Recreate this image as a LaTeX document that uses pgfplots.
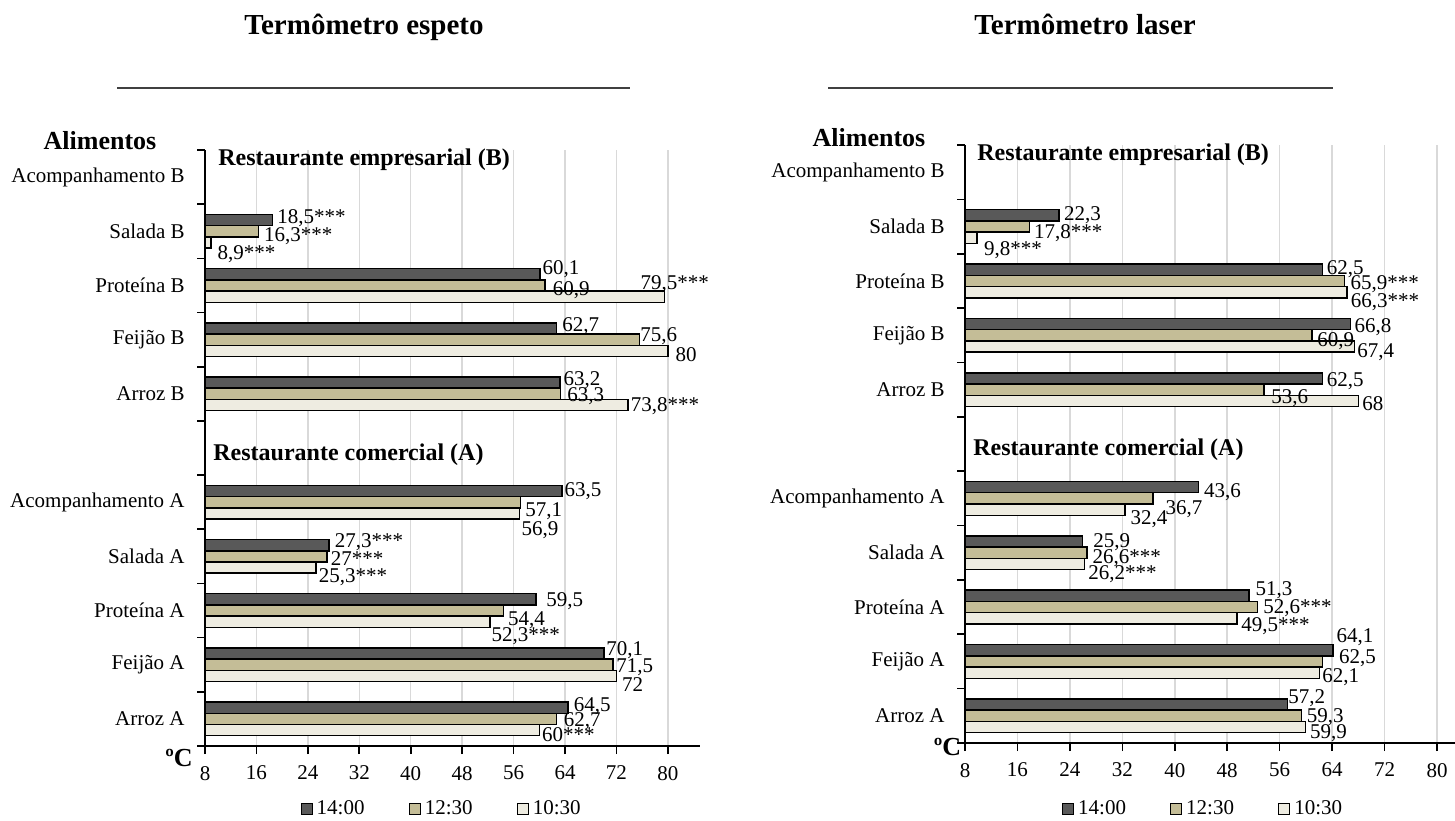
\documentclass[border=0pt]{standalone}
\usepackage{pgfplots}
\pgfplotsset{compat=1.18}
\usepackage{pgfplotstable}
\usepackage{fontspec}
\setmainfont{Liberation Serif}

\definecolor{barDark}{HTML}{595959}
\definecolor{barTan}{HTML}{C4BD97}
\definecolor{barLight}{HTML}{EEECE1}
\definecolor{gridGray}{HTML}{D9D9D9}

\newcommand\lbl{\fontsize{10.5}{12}\selectfont}
\newcommand\hdr{\fontsize{12}{14}\selectfont\bfseries}
\newcommand\bighdr{\fontsize{13}{15}\selectfont\bfseries}

% Temperatures (degC) per food and time; dx/dy place each value label (px)
\pgfplotstableread{
cat dv dl ddx ddy tv tl tdx tdy lv ll ldx ldy
1 18.5 18,5*** 4 -3.5 16.3 16,3*** 5 -10.6 8.9 8,9*** 6 -17.1
2 60.1 60,1 2 -0.6 60.9 60,9 7 -9.7 79.5 79,5*** -24.7 7.1
3 62.7 62,7 5 -3.4 75.6 75,6 0 -2.2 80 80 7 -11
4 63.2 63,2 3 -2.5 63.3 63,3 6 -8 73.8 73,8*** 2 -6.8
6 63.5 63,5 2 -5.8 57.1 57,1 4 -14.6 56.9 56,9 1.6 -21.7
7 27.3 27,3*** 5 -2.3 27 27*** 3 -8.7 25.3 25,3*** 2 -14.9
8 59.5 59,5 9.6 -7.4 54.4 54,4 4 -15.2 52.3 52,3*** 1 -20
9 70.1 70,1 1.4 -2.2 71.5 71,5 2.4 -8 72 72 5 -15.8
10 64.5 64,5 5 -3.3 62.7 62,7 6.6 -7.8 60 60*** 2 -11.6
}\espeto

\pgfplotstableread{
cat dv dl ddx ddy tv tl tdx tdy lv ll ldx ldy
1 22.3 22,3 4.6 -5 17.8 17,8*** 4 -11.5 9.8 9,8*** 6.5 -17.5
2 62.5 62,5 3.7 -4.6 65.9 65,9*** 5.4 -8.8 66.3 66,3*** 2.8 -15.8
3 66.8 66,8 3.5 -8 60.9 60,9 4.9 -11.7 67.4 67,4 2.3 -10.5
4 62.5 62,5 3.7 -7.9 53.6 53,6 6.7 -14.1 68 68 3.3 -9.4
6 43.6 43,6 5 -10 36.7 36,7 11.8 -16 32.4 32,4 5 -14.7
7 25.9 25,9 10.3 -6.2 26.6 26,6*** 4.8 -11 26.2 26,2*** 3.4 -15.8
8 51.3 51,3 6 0.6 52.6 52,6*** 5.3 -6.6 49.5 49,5*** 3.6 -13.6
9 64.1 64,1 3.2 8.2 62.5 62,5 16 -1.6 62.1 62,1 2 -9.3
10 57.2 57,2 0 0.9 59.3 59,3 4.7 -6.2 59.9 59,9 4 -11
}\laser

\pgfplotsset{
  thermo/.style={
    scale only axis, anchor=south west,
    xbar, bar width=0.207,
    xmin=8, xmax=85, ymin=-0.5, ymax=10.5, y dir=reverse,
    axis x line*=bottom, axis y line*=left,
    axis line style={line width=1pt},
    tick align=outside, major tick length=4pt,
    every tick/.style={black, line width=0.8pt},
    xtick={8,16,...,80},
    xmajorgrids, major grid style={gridGray, line width=0.75pt},
    ytick={-0.5,0.5,...,10.5}, yticklabels={},
    extra y ticks={0,...,10},
    extra y tick labels={Acompanhamento B, Salada B, Proteína B, Feijão B, Arroz B, {}, Acompanhamento A, Salada A, Proteína A, Feijão A, Arroz A},
    extra y tick style={major tick length=0pt},
    yticklabel style={inner sep=0pt, xshift=-10pt},
    xticklabel style={yshift=-2.5pt},
    /pgf/number format/assume math mode=true,
    tick label style={font=\lbl},
    point meta=explicit symbolic,
    nodes near coords,
    every node near coord/.append style={anchor=base west, inner sep=0pt, font=\lbl, xshift=\dx*0.5pt, yshift=\dy*0.5pt},
    legend style={draw=none, fill=none, legend columns=3, font=\lbl, anchor=center,
      /tikz/every even column/.append style={column sep=20pt}},
    legend image code/.code={\draw[#1, line width=0.6pt] (0pt,-2.75pt) rectangle (5.5pt,2.75pt);},
  },
  dark/.style={fill=barDark, draw=black, line width=0.75pt, bar shift=-0.207},
  tan/.style={fill=barTan, draw=black, line width=0.75pt, bar shift=0},
  light/.style={fill=barLight, draw=black, line width=0.75pt, bar shift=0.207},
  % one time series with per-point label offsets taken from the table
  series/.style n args={2}{forget plot,
    visualization depends on={\thisrow{#1}\as\dx},
    visualization depends on={\thisrow{#2}\as\dy}},
}

\begin{document}
\begin{tikzpicture}
\path[use as bounding box] (0pt,0pt) rectangle (727.5pt,410pt);

% Probe thermometer
\begin{axis}[thermo, at={(102.5pt,37pt)}, width=247.5pt, height=298pt,
  legend style={at={(0.48,-0.1057)}}]
  \addlegendimage{fill=barDark, draw=black}
  \addlegendentry{14:00}
  \addlegendimage{fill=barTan, draw=black}
  \addlegendentry{12:30}
  \addlegendimage{fill=barLight, draw=black}
  \addlegendentry{10:30}
  \addplot[dark, series={ddx}{ddy}] table[x=dv, y=cat, meta=dl]{\espeto};
  \addplot[tan, series={tdx}{tdy}] table[x=tv, y=cat, meta=tl]{\espeto};
  \addplot[light, series={ldx}{ldy}] table[x=lv, y=cat, meta=ll]{\espeto};
\end{axis}

% Laser thermometer
\begin{axis}[thermo, at={(482.5pt,38.5pt)}, width=252.4pt, height=299pt,
  legend style={at={(0.4735,-0.110)}}]
  \addlegendimage{fill=barDark, draw=black}
  \addlegendentry{14:00}
  \addlegendimage{fill=barTan, draw=black}
  \addlegendentry{12:30}
  \addlegendimage{fill=barLight, draw=black}
  \addlegendentry{10:30}
  \addplot[dark, series={ddx}{ddy}] table[x=dv, y=cat, meta=dl]{\laser};
  \addplot[tan, series={tdx}{tdy}] table[x=tv, y=cat, meta=tl]{\laser};
  \addplot[light, series={ldx}{ldy}] table[x=lv, y=cat, meta=ll]{\laser};
\end{axis}

% Titles and rules
\node[font=\fontsize{14.5}{16}\selectfont\bfseries, anchor=base] at (182pt,392.5pt) {Termômetro espeto};
\node[font=\fontsize{14.5}{16}\selectfont\bfseries, anchor=base] at (542.5pt,392.5pt) {Termômetro laser};
\draw[line width=1pt, black!75] (58.5pt,366pt) -- (315pt,366pt);
\draw[line width=1pt, black!75] (414pt,366pt) -- (666.5pt,366pt);

% Axis captions
\node[font=\bighdr] at (50pt,339.5pt) {Alimentos};
\node[font=\bighdr] at (434.5pt,341pt) {Alimentos};
\node[font=\bighdr] at (89.5pt,31pt) {ºC};
\node[font=\bighdr] at (473.75pt,36.5pt) {ºC};

% Group headings
\node[font=\hdr, anchor=west, inner sep=0pt] at (109pt,330pt) {Restaurante empresarial (B)};
\node[font=\hdr, anchor=west, inner sep=0pt] at (106.5pt,182.5pt) {Restaurante comercial (A)};
\node[font=\hdr, anchor=west, inner sep=0pt] at (488.5pt,332.5pt) {Restaurante empresarial (B)};
\node[font=\hdr, anchor=west, inner sep=0pt] at (486.5pt,185pt) {Restaurante comercial (A)};
\end{tikzpicture}
\end{document}
